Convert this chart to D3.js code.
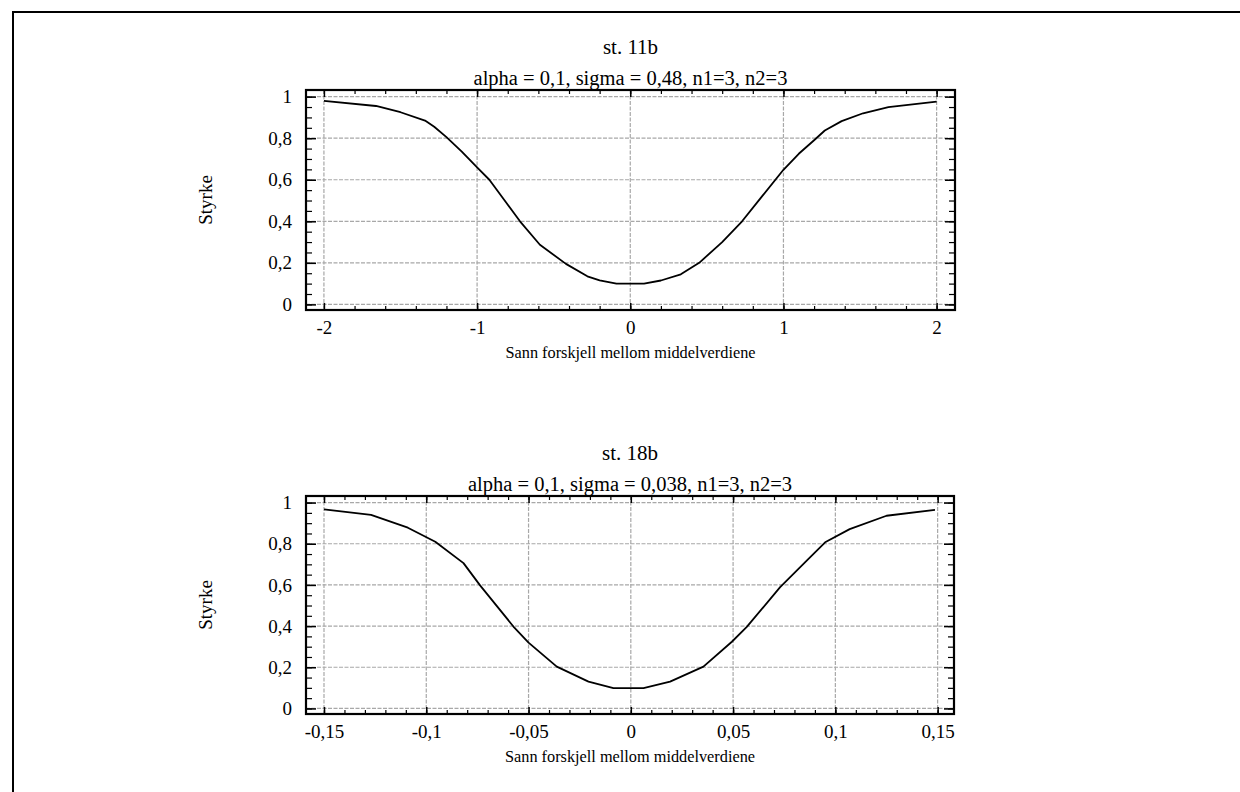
<!DOCTYPE html>
<html>
<head>
<meta charset="utf-8">
<script src="https://cdn.jsdelivr.net/npm/d3@7"></script>
<style>
  html, body { margin: 0; padding: 0; background: #fff; }
  svg { display: block; }
  text { font-family: "Liberation Serif", "Times New Roman", serif; fill: #000; }
</style>
</head>
<body>
<svg id="chart" width="1240" height="792"></svg>
<script>
// ---- Data ----
const topTitle = "st. 11b";
const topSubtitle = "alpha = 0,1, sigma = 0,48, n1=3, n2=3";
const topX = [-2.0, -1.66, -1.5, -1.34, -1.28, -1.2, -1.1, -1.0, -0.92, -0.82, -0.72, -0.59, -0.42, -0.28, -0.2, -0.09,
              0.09, 0.2, 0.33, 0.45, 0.6, 0.73, 0.86, 1.0, 1.1, 1.2, 1.27, 1.38, 1.52, 1.685, 2.0];
const topY = [0.98, 0.955, 0.925, 0.885, 0.855, 0.805, 0.735, 0.66, 0.60, 0.50, 0.40, 0.287, 0.195, 0.135, 0.116, 0.10,
              0.10, 0.115, 0.145, 0.20, 0.30, 0.40, 0.52, 0.648, 0.725, 0.79, 0.837, 0.882, 0.92, 0.95, 0.976];
const topXTicks = [-2, -1, 0, 1, 2];
const topXTickLabels = ["-2", "-1", "0", "1", "2"];
const topXMinor = [-2, -1.8, -1.6, -1.4, -1.2, -1, -0.8, -0.6, -0.4, -0.2, 0, 0.2, 0.4, 0.6, 0.8, 1, 1.2, 1.4, 1.6, 1.8, 2];

const botTitle = "st. 18b";
const botSubtitle = "alpha = 0,1, sigma = 0,038, n1=3, n2=3";
const botX = [-0.15, -0.127, -0.109, -0.0956, -0.0818, -0.0737, -0.0574, -0.050, -0.0362, -0.0207, -0.0085,
              0.0062, 0.0192, 0.0355, 0.0494, 0.0567, 0.073, 0.086, 0.095, 0.107, 0.125, 0.1487];
const botY = [0.967, 0.94, 0.878, 0.81, 0.706, 0.598, 0.398, 0.32, 0.203, 0.13, 0.0985,
              0.0985, 0.13, 0.203, 0.324, 0.396, 0.589, 0.718, 0.807, 0.871, 0.936, 0.965];
const botXTicks = [-0.15, -0.1, -0.05, 0, 0.05, 0.1, 0.15];
const botXTickLabels = ["-0,15", "-0,1", "-0,05", "0", "0,05", "0,1", "0,15"];
const botXMinor = [-0.15, -0.14, -0.13, -0.12, -0.11, -0.1, -0.09, -0.08, -0.07, -0.06, -0.05, -0.04, -0.03, -0.02, -0.01,
                   0, 0.01, 0.02, 0.03, 0.04, 0.05, 0.06, 0.07, 0.08, 0.09, 0.1, 0.11, 0.12, 0.13, 0.14, 0.15];

const yTicks = [0, 0.2, 0.4, 0.6, 0.8, 1];
const yTickLabels = ["0", "0,2", "0,4", "0,6", "0,8", "1"];
const yMinor = [0, 0.05, 0.1, 0.15, 0.2, 0.25, 0.3, 0.35, 0.4, 0.45, 0.5, 0.55, 0.6, 0.65, 0.7, 0.75, 0.8, 0.85, 0.9, 0.95, 1];
const yLabel = "Styrke";
const xLabel = "Sann forskjell mellom middelverdiene";

// ---- Drawing ----
const svg = d3.select("#chart");
const FONT = "Liberation Serif, Times New Roman, serif";

// outer frame (top and left edges)
svg.append("path")
  .attr("d", d3.line()([[13, 792], [13, 12], [1240, 12]]))
  .attr("fill", "none").attr("stroke", "#000").attr("stroke-width", 2);

function panel(cfg) {
  const { left, right, top, bottom, xDomain, xs, ys, xTicks, xTickLabels, xMinor, title, subtitle } = cfg;
  const x = d3.scaleLinear().domain(xDomain).range([left, right]);
  const y = d3.scaleLinear().domain([-0.027, 1.032]).range([bottom, top]);
  const g = svg.append("g");

  // grid
  g.append("g").selectAll("line").data(xTicks).join("line")
    .attr("x1", d => x(d)).attr("x2", d => x(d)).attr("y1", top).attr("y2", bottom)
    .attr("stroke", "#a8a8a8").attr("stroke-width", 1.2).attr("stroke-dasharray", "4,1.5");
  g.append("g").selectAll("line").data(yTicks).join("line")
    .attr("y1", d => y(d)).attr("y2", d => y(d)).attr("x1", left).attr("x2", right)
    .attr("stroke", "#a8a8a8").attr("stroke-width", 1.2).attr("stroke-dasharray", "4,1.5");

  // minor ticks (inward)
  const minorStyle = sel => { sel.select(".domain").remove(); sel.selectAll("line").attr("stroke", "#000").attr("stroke-width", 1.2); };
  g.append("g").attr("transform", `translate(0,${bottom})`)
    .call(d3.axisBottom(x).tickValues(xMinor).tickSize(-4).tickFormat("")).call(minorStyle);
  g.append("g").attr("transform", `translate(0,${top})`)
    .call(d3.axisTop(x).tickValues(xMinor).tickSize(-4).tickFormat("")).call(minorStyle);
  g.append("g").attr("transform", `translate(${left},0)`)
    .call(d3.axisLeft(y).tickValues(yMinor).tickSize(-6).tickFormat("")).call(minorStyle);
  g.append("g").attr("transform", `translate(${right},0)`)
    .call(d3.axisRight(y).tickValues(yMinor).tickSize(-6).tickFormat("")).call(minorStyle);

  // major ticks with labels
  const xa = g.append("g").attr("transform", `translate(0,${bottom})`)
    .call(d3.axisBottom(x).tickValues(xTicks).tickSize(-7).tickPadding(11)
      .tickFormat((d, i) => xTickLabels[i]));
  xa.select(".domain").remove();
  xa.selectAll("line").attr("stroke", "#000").attr("stroke-width", 1.5);
  xa.selectAll("text").attr("font-size", 19).attr("fill", "#000").attr("font-family", FONT);

  const ya = g.append("g").attr("transform", `translate(${left},0)`)
    .call(d3.axisLeft(y).tickValues(yTicks).tickSize(-10).tickPadding(14)
      .tickFormat((d, i) => yTickLabels[i]));
  ya.select(".domain").remove();
  ya.selectAll("line").attr("stroke", "#000").attr("stroke-width", 1.5);
  ya.selectAll("text").attr("font-size", 19).attr("fill", "#000").attr("font-family", FONT);

  const yr = g.append("g").attr("transform", `translate(${right},0)`)
    .call(d3.axisRight(y).tickValues(yTicks).tickSize(-10).tickFormat(""));
  yr.select(".domain").remove();
  yr.selectAll("line").attr("stroke", "#000").attr("stroke-width", 1.5);

  const xt = g.append("g").attr("transform", `translate(0,${top})`)
    .call(d3.axisTop(x).tickValues(xTicks).tickSize(-7).tickFormat(""));
  xt.select(".domain").remove();
  xt.selectAll("line").attr("stroke", "#000").attr("stroke-width", 1.5);

  // box
  g.append("rect").attr("x", left).attr("y", top)
    .attr("width", right - left).attr("height", bottom - top)
    .attr("fill", "none").attr("stroke", "#000").attr("stroke-width", 2.2);

  // curve
  g.append("path").datum(xs.map((v, i) => [v, ys[i]]))
    .attr("d", d3.line().x(d => x(d[0])).y(d => y(d[1])))
    .attr("fill", "none").attr("stroke", "#000").attr("stroke-width", 1.8)
    .attr("stroke-linejoin", "round");

  // titles
  const cx = (left + right) / 2;
  g.append("text").attr("x", cx).attr("y", top - 36).attr("text-anchor", "middle")
    .attr("font-size", 21).text(title);
  g.append("text").attr("x", cx).attr("y", top - 5).attr("text-anchor", "middle")
    .attr("font-size", 20.5).text(subtitle);
  g.append("text").attr("x", cx).attr("y", bottom + 48).attr("text-anchor", "middle")
    .attr("font-size", 16.3).text(xLabel);
  g.append("text").attr("transform", `translate(212,${(top + bottom) / 2}) rotate(-90)`)
    .attr("text-anchor", "middle").attr("font-size", 19).text(yLabel);
}

panel({ left: 306, right: 955, top: 90, bottom: 310, xDomain: [-2.117, 2.12],
        xs: topX, ys: topY, xTicks: topXTicks, xTickLabels: topXTickLabels, xMinor: topXMinor,
        title: topTitle, subtitle: topSubtitle });
panel({ left: 306, right: 954, top: 496, bottom: 714, xDomain: [-0.1588, 0.158],
        xs: botX, ys: botY, xTicks: botXTicks, xTickLabels: botXTickLabels, xMinor: botXMinor,
        title: botTitle, subtitle: botSubtitle });
</script>
</body>
</html>
